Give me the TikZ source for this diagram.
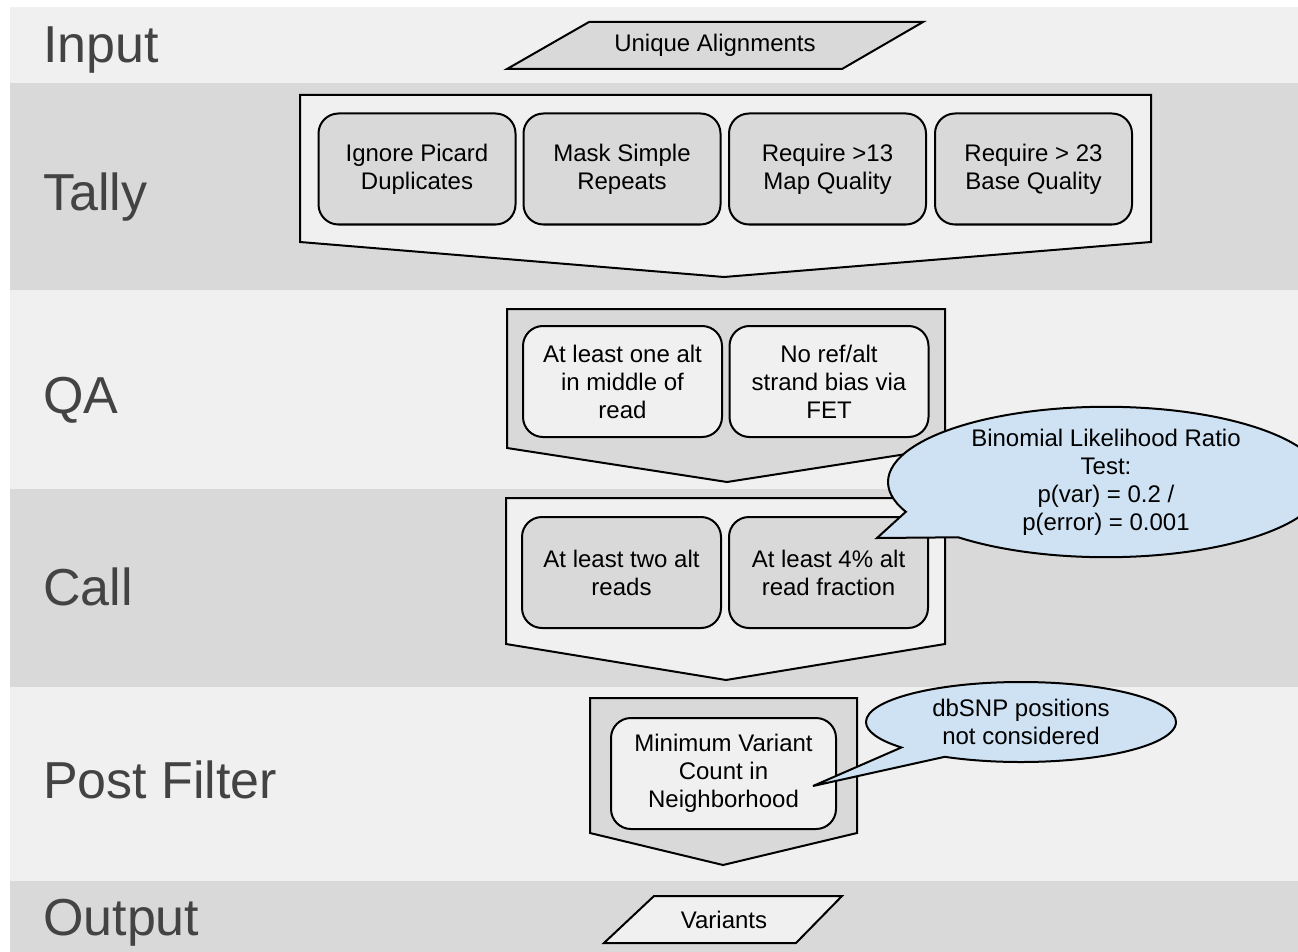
\documentclass[tikz,border=0pt]{standalone}
\usepackage{fontspec}
\setmainfont{Liberation Sans}
\usetikzlibrary{shapes.callouts}
\definecolor{bandlight}{HTML}{F0F0F0}
\definecolor{bandgray}{HTML}{D9D9D9}
\definecolor{noteblue}{HTML}{CFE2F3}
\definecolor{labelgray}{HTML}{434343}

\begin{document}
\begin{tikzpicture}[x=1pt,y=-1pt,
  lane/.style={anchor=base west, inner sep=0pt, font=\fontsize{52}{60}\selectfont, text=labelgray},
  chevron/.style={draw=black, line width=2pt, line join=miter},
  ioshape/.style={draw=black, line width=2pt, line join=miter},
  iotext/.style={inner sep=0pt, font=\fontsize{24}{28}\selectfont},
  filterbox/.style={draw=black, line width=2pt, rounded corners=20pt, align=center,
    inner sep=0pt, font=\fontsize{24}{28}\selectfont, minimum height=111pt},
  note/.style={ellipse callout, draw=black, line width=2pt, fill=noteblue, align=center,
    inner sep=0pt, font=\fontsize{24}{28}\selectfont}
]
\useasboundingbox (0,0) rectangle (1298,952);
\fill[white] (0,0) rectangle (1298,952);

% horizontal bands
\fill[bandlight] (10,7)   rectangle (1298,83);
\fill[bandgray]  (10,83)  rectangle (1298,290);
\fill[bandlight] (10,290) rectangle (1298,489);
\fill[bandgray]  (10,489) rectangle (1298,687);
\fill[bandlight] (10,687) rectangle (1298,881);
\fill[bandgray]  (10,881) rectangle (1298,952);

% band titles
\node[lane] (lInput) at (43,63)  {Input};
\node[lane] (lTally) at (43,211) {Tally};
\node[lane] (lQA)    at (43,413) {QA};
\node[lane] (lCall)  at (43,605) {Call};
\node[lane] (lPost)  at (43,798) {Post Filter};
\node[lane] (lOut)   at (43,935) {Output};

% input data
\draw[ioshape, fill=bandgray] (589,22) -- (923,22) -- (842,69) -- (507,69) -- cycle;
\node[iotext] (input) at (715,45.5) {Unique Alignments};

% tally stage
\draw[chevron, fill=bandlight] (300,95) -- (1151,95) -- (1151,242) -- (724,277) -- (300,242) -- cycle;
\node[filterbox, fill=bandgray, minimum width=197pt] (t1) at (417,169)    {Ignore Picard\\Duplicates};
\node[filterbox, fill=bandgray, minimum width=197pt] (t2) at (622,169)    {Mask Simple\\Repeats};
\node[filterbox, fill=bandgray, minimum width=197pt] (t3) at (827.5,169)  {Require >13\\Map Quality};
\node[filterbox, fill=bandgray, minimum width=197pt] (t4) at (1033.5,169) {Require > 23\\Base Quality};

% QA stage
\draw[chevron, fill=bandgray] (507,309) -- (945,309) -- (945,448) -- (727,482) -- (507,448) -- cycle;
\node[filterbox, fill=bandlight, minimum width=199pt] (q1) at (622.5,381.5) {At least one alt\\in middle of\\read};
\node[filterbox, fill=bandlight, minimum width=199pt] (q2) at (829,381.5)   {No ref/alt\\strand bias via\\FET};

% call stage
\draw[chevron, fill=bandlight] (506,498) -- (945,498) -- (945,644) -- (726,680) -- (506,644) -- cycle;
\node[filterbox, fill=bandgray, minimum width=199pt] (c1) at (621.5,572.5) {At least two alt\\reads};
\node[filterbox, fill=bandgray, minimum width=199pt] (c2) at (828.5,572.5) {At least 4\% alt\\read fraction};

% post filter stage
\draw[chevron, fill=bandgray] (590,698) -- (857,698) -- (857,833) -- (723,865) -- (590,833) -- cycle;
\node[filterbox, fill=bandlight, minimum width=225pt] (p1) at (723.5,773.5) {Minimum Variant\\Count in\\Neighborhood};

% output data
\draw[ioshape, fill=bandlight] (654,896) -- (842,896) -- (796,943) -- (604,943) -- cycle;
\node[iotext] (output) at (724,919.5) {Variants};

% annotations
\coordinate (tipA) at (877,538);
\node[note, minimum width=436pt, minimum height=148pt, callout pointer arc=24,
  callout absolute pointer={(tipA)}] (binom) at (1106,482)
  {Binomial Likelihood Ratio\\Test:\\p(var) = 0.2 /\\p(error) = 0.001};

\coordinate (tipB) at (813,786);
\node[note, minimum width=310pt, minimum height=80pt, callout pointer arc=21,
  callout absolute pointer={(tipB)}] (dbsnp) at (1021,722)
  {dbSNP positions\\not considered};
\end{tikzpicture}
\end{document}
